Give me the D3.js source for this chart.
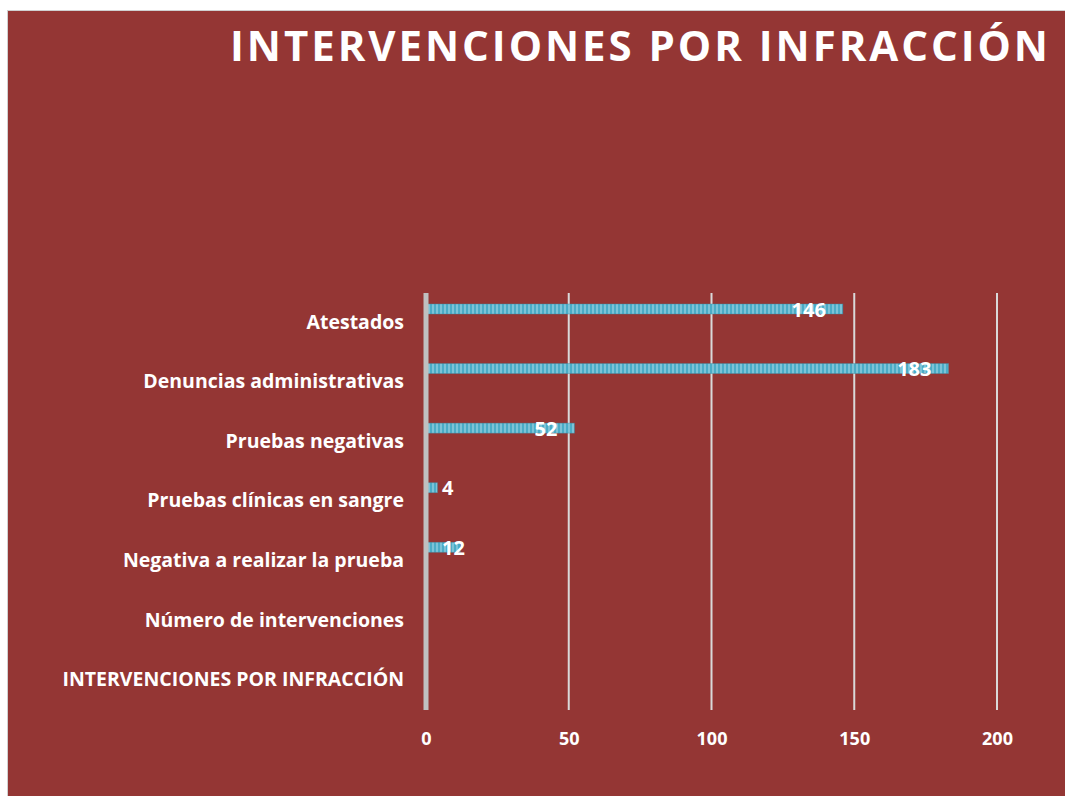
<!DOCTYPE html>
<html>
<head>
<meta charset="utf-8">
<script src="https://cdn.jsdelivr.net/npm/d3@7"></script>
<style>
  body { margin: 0; background: #fff; overflow: hidden; }
  svg { display: block; }
  text { font-family: "Open Sans", "Noto Sans", sans-serif; font-weight: bold; fill: #fff; }
</style>
</head>
<body>
<svg id="chart" width="1065" height="796"></svg>
<script>
// chart data
const categories = [
  'Atestados',
  'Denuncias administrativas',
  'Pruebas negativas',
  'Pruebas clínicas en sangre',
  'Negativa a realizar la prueba',
  'Número de intervenciones',
  'INTERVENCIONES POR INFRACCIÓN'
];
const values = [146, 183, 52, 4, 12, null, null];
const xTicks = [0, 50, 100, 150, 200];
const title = 'INTERVENCIONES POR INFRACCIÓN';

const svg = d3.select('#chart');
const width = +svg.attr('width');
const height = +svg.attr('height');
const margin = { top: 293, right: 68, bottom: 86, left: 426 };
const innerWidth = width - margin.left - margin.right;
const innerHeight = height - margin.top - margin.bottom;

// background panel
svg.append('rect')
  .attr('x', 7).attr('y', 10)
  .attr('width', width - 7).attr('height', height - 10)
  .attr('fill', '#d0d0d0');
svg.append('rect')
  .attr('x', 8).attr('y', 11)
  .attr('width', width - 8).attr('height', height - 11)
  .attr('fill', '#943634');

// striped fill for the bars
const defs = svg.append('defs');
const pat = defs.append('pattern')
  .attr('id', 'stripes')
  .attr('patternUnits', 'userSpaceOnUse')
  .attr('width', 4).attr('height', 10);
pat.append('rect').attr('width', 4).attr('height', 10).attr('fill', '#4bacc6');
pat.append('rect').attr('x', 2).attr('width', 2).attr('height', 10).attr('fill', '#7cc3d7');

// title
svg.append('text')
  .attr('x', 230).attr('y', 61)
  .attr('textLength', 818)
  .attr('lengthAdjust', 'spacing')
  .style('font-size', '42px')
  .text(title);

const xScale = d3.scaleLinear()
  .domain([0, 200])
  .range([0, innerWidth]);

const yScale = d3.scaleBand()
  .domain(categories)
  .range([0, innerHeight]);

const g = svg.append('g')
  .attr('transform', `translate(${margin.left},${margin.top})`);

// gridlines
g.selectAll('.grid').data(xTicks.slice(1)).join('line')
  .attr('class', 'grid')
  .attr('x1', d => xScale(d)).attr('x2', d => xScale(d))
  .attr('y1', 0).attr('y2', innerHeight)
  .attr('stroke', '#d9d9d9')
  .attr('stroke-width', 2);

// x axis labels
const xAxis = d3.axisBottom(xScale).tickValues(xTicks).tickSize(0).tickPadding(22);
const xAxisG = g.append('g')
  .attr('transform', `translate(0,${innerHeight})`)
  .call(xAxis);
xAxisG.select('.domain').remove();
xAxisG.selectAll('text')
  .attr('fill', '#fff')
  .style('font-size', '18px')
  .style('font-family', '"Open Sans", sans-serif')
  .style('font-weight', 'bold');

// y axis labels
const yAxis = d3.axisLeft(yScale).tickSize(0).tickPadding(22);
const yAxisG = g.append('g').call(yAxis);
yAxisG.select('.domain').remove();
yAxisG.selectAll('text')
  .attr('fill', '#fff')
  .attr('dy', '0.3em')
  .style('font-size', '19.5px')
  .style('font-family', '"Open Sans", sans-serif')
  .style('font-weight', 'bold');

// bars (first slot of each band)
const barH = 10;
const barOffset = 11;
const rows = categories.map((c, i) => ({ cat: c, value: values[i] })).filter(d => d.value != null);

g.selectAll('.bar').data(rows).join('rect')
  .attr('class', 'bar')
  .attr('x', 0)
  .attr('y', d => yScale(d.cat) + barOffset)
  .attr('width', d => xScale(d.value))
  .attr('height', barH)
  .attr('fill', 'url(#stripes)')
  .attr('stroke', '#3f8fa6')
  .attr('stroke-opacity', 0.5)
  .attr('stroke-width', 0.8);

// zero axis line
g.append('line')
  .attr('x1', 0).attr('x2', 0)
  .attr('y1', 0).attr('y2', innerHeight)
  .attr('stroke', '#c0c0c0')
  .attr('stroke-width', 5);

// value labels
const labels = g.selectAll('.val').data(rows).join('text')
  .attr('class', 'val')
  .attr('y', d => yScale(d.cat) + barOffset + barH / 2)
  .attr('dy', '0.38em')
  .attr('text-anchor', 'end')
  .style('font-size', '20px')
  .text(d => d.value);

labels.attr('x', function(d) {
  const w = this.getComputedTextLength();
  return Math.max(xScale(d.value) - 17, 16 + w);
});
</script>
</body>
</html>
